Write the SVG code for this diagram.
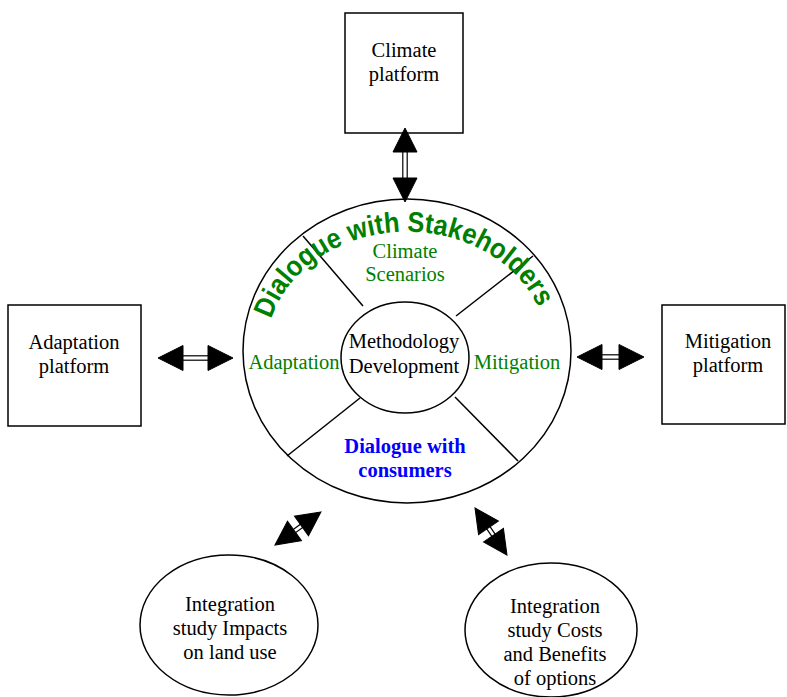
<svg xmlns="http://www.w3.org/2000/svg" width="787" height="697" viewBox="0 0 787 697">
<style>
.box{fill:#fff;stroke:#000;stroke-width:1.5}
.ln{fill:none;stroke:#000;stroke-width:1.5}
.t{font-family:"Liberation Serif","Times New Roman",serif;font-size:20.5px;text-anchor:middle;fill:#000}
.g{fill:#008000}
.b{fill:#0000ff;font-weight:bold}
.arc{font-family:"Liberation Sans",Arial,sans-serif;font-weight:bold;font-size:28.5px;fill:#008000}
.head{fill:#000;stroke:#000;stroke-width:1}
.shaft{fill:#fff;stroke:#000;stroke-width:1.2}
</style>
<defs>
<path id="stkArc" d="M 268.1,330.3 A 141 119 0 0 1 545.9,330.3"/>
</defs>
<rect width="787" height="697" fill="#fff"/>

<g id="climate-platform">
<rect class="box" x="345" y="13" width="118" height="120"/>
<text class="t" x="404" y="57">Climate</text>
<text class="t" x="404" y="81">platform</text>
</g>

<g id="adaptation-platform">
<rect class="box" x="8" y="305" width="133" height="121"/>
<text class="t" x="74" y="349">Adaptation</text>
<text class="t" x="74" y="373">platform</text>
</g>

<g id="mitigation-platform">
<rect class="box" x="662" y="305" width="123" height="119"/>
<text class="t" x="728" y="348">Mitigation</text>
<text class="t" x="728" y="372">platform</text>
</g>

<g id="central-hub">
<ellipse class="ln" cx="407" cy="351" rx="164" ry="152"/>
<line class="ln" x1="303" y1="236" x2="363" y2="306"/>
<line class="ln" x1="533" y1="256" x2="456" y2="316"/>
<line class="ln" x1="287" y1="456" x2="360" y2="398"/>
<line class="ln" x1="518" y1="461" x2="455" y2="397"/>
<text class="arc" textLength="332" lengthAdjust="spacingAndGlyphs"><textPath href="#stkArc" startOffset="48.3%" text-anchor="middle" textLength="332" lengthAdjust="spacingAndGlyphs">Dialogue with Stakeholders</textPath></text>
<text class="t g" x="405" y="258">Climate</text>
<text class="t g" x="405" y="281">Scenarios</text>
<text class="t g" x="294" y="369">Adaptation</text>
<text class="t g" x="517" y="369">Mitigation</text>
<text class="t b" x="405" y="453">Dialogue with</text>
<text class="t b" x="405" y="477">consumers</text>
</g>

<g id="methodology-development">
<ellipse class="ln" cx="405" cy="357.5" rx="64" ry="55.5"/>
<text class="t" x="404" y="348">Methodology</text>
<text class="t" x="404" y="373">Development</text>
</g>

<g id="integration-land-use">
<ellipse class="ln" cx="229" cy="625" rx="89" ry="70"/>
<text class="t" x="230" y="611">Integration</text>
<text class="t" x="230" y="635">study Impacts</text>
<text class="t" x="230" y="659">on land use</text>
</g>

<g id="integration-costs-benefits">
<ellipse class="ln" cx="551" cy="630" rx="86" ry="67"/>
<text class="t" x="555" y="613">Integration</text>
<text class="t" x="555" y="637">study Costs</text>
<text class="t" x="555" y="661">and Benefits</text>
<text class="t" x="555" y="685">of options</text>
</g>

<g id="connectors">
<g transform="translate(405,128) rotate(90)">
<rect class="shaft" x="23" y="-2.2" width="28" height="4.4"/>
<polygon class="head" points="0,0 24,-12 24,12"/>
<polygon class="head" points="74,0 50,-12 50,12"/>
</g>
<g transform="translate(158,358)">
<rect class="shaft" x="24" y="-2.2" width="27" height="4.4"/>
<polygon class="head" points="0,0 25,-12.5 25,12.5"/>
<polygon class="head" points="75,0 50,-12.5 50,12.5"/>
</g>
<g transform="translate(577,357)">
<rect class="shaft" x="24" y="-2.2" width="19" height="4.4"/>
<polygon class="head" points="0,0 25,-12.5 25,12.5"/>
<polygon class="head" points="67,0 42,-12.5 42,12.5"/>
</g>
<g transform="translate(275,545) rotate(-35.7)">
<rect class="shaft" x="22" y="-2" width="13" height="4"/>
<polygon class="head" points="0,0 24,-12 24,12"/>
<polygon class="head" points="56.6,0 32.6,-12 32.6,12"/>
</g>
<g transform="translate(475,508) rotate(55.8)">
<rect class="shaft" x="22" y="-2" width="13" height="4"/>
<polygon class="head" points="0,0 24,-12 24,12"/>
<polygon class="head" points="56.9,0 32.9,-12 32.9,12"/>
</g>
</g>
</svg>
